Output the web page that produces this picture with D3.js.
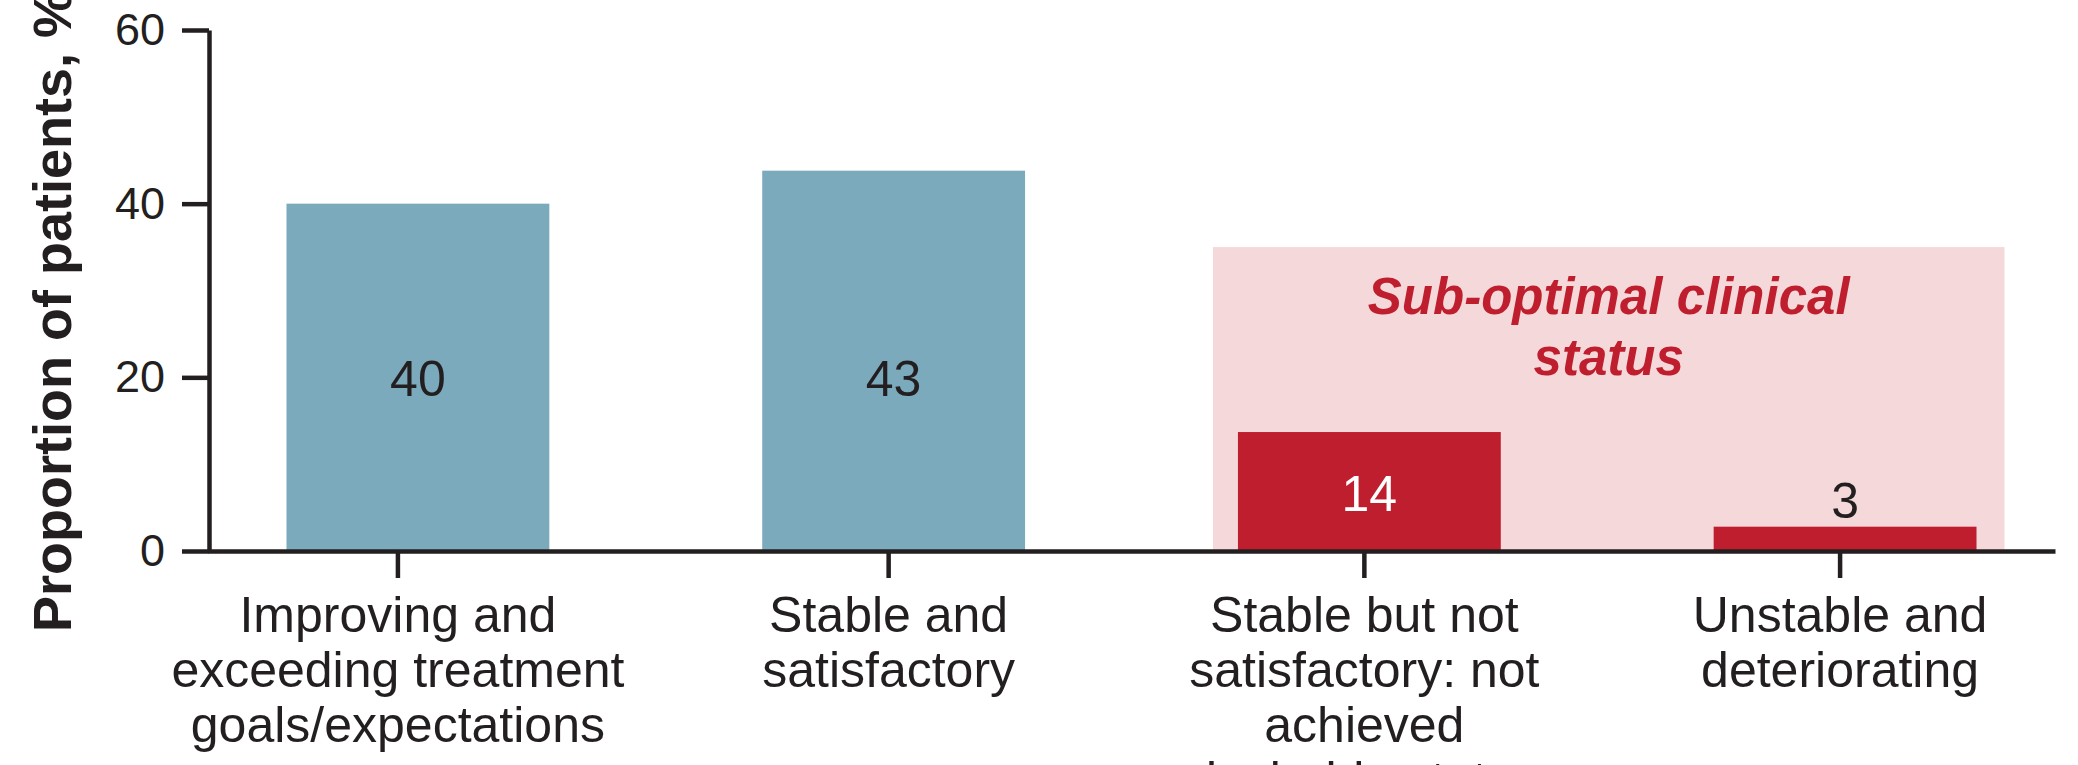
<!DOCTYPE html>
<html>
<head>
<meta charset="utf-8">
<script src="https://cdn.jsdelivr.net/npm/d3@7"></script>
<style>
  html, body { margin: 0; padding: 0; background: #ffffff; }
  svg { display: block; }
  text { font-family: "Liberation Sans", Arial, Helvetica, sans-serif; }
</style>
</head>
<body>
<svg id="chart" width="2078" height="765"></svg>
<script>
// ---- data ----
const categories = [
  "Improving and exceeding treatment goals/expectations",
  "Stable and satisfactory",
  "Stable but not satisfactory: not achieved desirable status",
  "Unstable and deteriorating"
];
const categoryLines = [
  ["Improving and", "exceeding treatment", "goals/expectations"],
  ["Stable and", "satisfactory"],
  ["Stable but not", "satisfactory: not", "achieved", "desirable status"],
  ["Unstable and", "deteriorating"]
];
const values = [40, 43.8, 13.7, 2.8];
const valueLabels = ["40", "43", "14", "3"];
const suboptimal = [false, false, true, true];
const yTicks = [0, 20, 40, 60];
const yTitle = "Proportion of patients, %";
const groupTitleLines = ["Sub-optimal clinical", "status"];
const groupExtent = 35;

// ---- styles ----
const ink = "#231f20";
const blue = "#7baabd";
const red = "#be1e2d";
const pink = "#f5d8d9";
const tickNudge = [-20, -5, -5, -5];

const svg = d3.select("#chart");

const y = d3.scaleLinear().domain([0, 60]).range([551, 30]);
const x = d3.scaleBand()
  .domain(categories)
  .range([208, 2055])
  .paddingInner(0.4475)
  .paddingOuter(0.165);
const bw = x.bandwidth();
const tickX = (d, i) => x(d) + bw / 2 + tickNudge[i];

// sub-optimal shaded region
const subCats = categories.filter((c, i) => suboptimal[i]);
const boxX0 = x(subCats[0]) - 25;
const boxX1 = x(subCats[subCats.length - 1]) + bw + 28;
svg.append("rect")
  .attr("x", boxX0)
  .attr("y", y(groupExtent))
  .attr("width", boxX1 - boxX0)
  .attr("height", y(0) - y(groupExtent))
  .attr("fill", pink);

const gt = svg.append("text")
  .attr("text-anchor", "middle")
  .attr("fill", red)
  .attr("font-size", 51)
  .attr("font-weight", "bold")
  .attr("font-style", "italic");
groupTitleLines.forEach((t, i) => {
  gt.append("tspan")
    .attr("x", (boxX0 + boxX1) / 2)
    .attr("y", y(groupExtent) + 67 + i * 61)
    .text(t);
});

// bars
svg.selectAll("rect.bar")
  .data(categories)
  .join("rect")
  .attr("class", "bar")
  .attr("x", d => x(d))
  .attr("width", bw)
  .attr("y", (d, i) => y(values[i]))
  .attr("height", (d, i) => y(0) - y(values[i]))
  .attr("fill", (d, i) => suboptimal[i] ? red : blue);

// value labels
svg.selectAll("text.val")
  .data(categories)
  .join("text")
  .attr("class", "val")
  .attr("x", d => x(d) + bw / 2)
  .attr("y", (d, i) => values[i] < 5 ? y(values[i]) - 9 : y(Math.min(values[i] / 2, 20)) + 19)
  .attr("text-anchor", "middle")
  .attr("font-size", 50)
  .attr("fill", (d, i) => (suboptimal[i] && values[i] >= 5) ? "#ffffff" : ink)
  .text((d, i) => valueLabels[i]);

// y axis
const yAxis = svg.append("g")
  .attr("transform", "translate(209,0)")
  .call(d3.axisLeft(y).tickValues(yTicks).tickSize(27).tickSizeOuter(0).tickPadding(17));
yAxis.select(".domain").attr("stroke", ink).attr("stroke-width", 4.5);
yAxis.selectAll(".tick line").attr("stroke", ink).attr("stroke-width", 4.5);
yAxis.selectAll(".tick text")
  .attr("font-size", 45)
  .attr("fill", ink)
  .style("font-family", "'Liberation Sans', Arial, Helvetica, sans-serif");

// x axis
const xAxis = svg.append("g")
  .attr("transform", `translate(0,${y(0)})`)
  .call(d3.axisBottom(x).tickSize(27).tickSizeOuter(0).tickFormat(""));
xAxis.select(".domain").attr("stroke", ink).attr("stroke-width", 4.5);
xAxis.selectAll(".tick")
  .attr("transform", (d, i) => `translate(${tickX(d, i)},0)`);
xAxis.selectAll(".tick line").attr("stroke", ink).attr("stroke-width", 4.5);
xAxis.selectAll(".tick text").remove();

// x category labels
categories.forEach((c, i) => {
  const t = svg.append("text")
    .attr("text-anchor", "middle")
    .attr("font-size", 50)
    .attr("fill", ink);
  categoryLines[i].forEach((line, j) => {
    t.append("tspan")
      .attr("x", tickX(c, i))
      .attr("y", y(0) + 81 + j * 55)
      .text(line);
  });
});

// y axis title
svg.append("text")
  .attr("transform", "translate(71,632) rotate(-90)")
  .attr("text-anchor", "start")
  .attr("font-size", 54)
  .attr("font-weight", "bold")
  .attr("fill", ink)
  .text(yTitle);
</script>
</body>
</html>
